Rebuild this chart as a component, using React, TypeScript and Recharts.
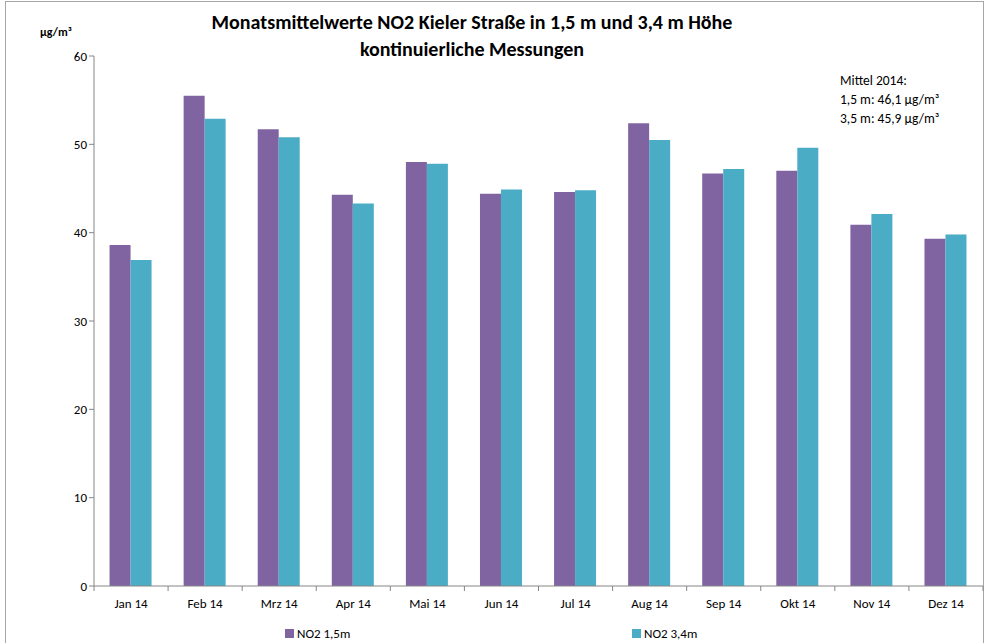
import { BarChart, Bar, XAxis, YAxis, Customized } from 'recharts';

const months = ['Jan 14', 'Feb 14', 'Mrz 14', 'Apr 14', 'Mai 14', 'Jun 14', 'Jul 14', 'Aug 14', 'Sep 14', 'Okt 14', 'Nov 14', 'Dez 14'];
const no2At15 = [38.6, 55.5, 51.7, 44.3, 48.0, 44.4, 44.6, 52.4, 46.7, 47.0, 40.9, 39.3];
const no2At34 = [36.9, 52.9, 50.8, 43.3, 47.8, 44.9, 44.8, 50.5, 47.2, 49.6, 42.1, 39.8];
const yTicks = [0, 10, 20, 30, 40, 50, 60];
const seriesNames = ['NO2 1,5m', 'NO2 3,4m'];

const data = months.map((m, i) => ({ month: m, a: no2At15[i], b: no2At34[i] }));

const W = 986;
const H = 643;
const PLOT_LEFT = 94;
const PLOT_RIGHT = 983;
const BAND = (PLOT_RIGHT - PLOT_LEFT) / months.length;
const FONT = "Carlito, 'Open Sans', 'Noto Sans', sans-serif";
const AXIS = '#868686';
const PURPLE = '#8064A2';
const TEAL = '#4BACC6';

function MonthTick(props: any) {
  const { x, y, payload, index } = props;
  const left = x - BAND / 2;
  return (
    <g>
      <line x1={left} y1={y - 8} x2={left} y2={y - 3} stroke={AXIS} />
      {index === months.length - 1 && (
        <line x1={left + BAND} y1={y - 8} x2={left + BAND} y2={y - 3} stroke={AXIS} />
      )}
      <text x={x} y={y + 14} textAnchor="middle" fontSize={13} fontFamily={FONT} fill="#000">
        {payload.value}
      </text>
    </g>
  );
}

function Overlay() {
  const legend = [
    { label: seriesNames[0], color: PURPLE, x: 285 },
    { label: seriesNames[1], color: TEAL, x: 632 },
  ];
  return (
    <g fontFamily={FONT}>
      <rect x={5.5} y={1.5} width={978} height={H} fill="none" stroke="#a6a6a6" />
      <text x={472} y={29} textAnchor="middle" fontSize={20} fontWeight="bold" fill="#000">
        Monatsmittelwerte NO2 Kieler Straße in 1,5 m und 3,4 m Höhe
      </text>
      <text x={472} y={56} textAnchor="middle" fontSize={20} fontWeight="bold" fill="#000">
        kontinuierliche Messungen
      </text>
      <text x={40} y={36} fontSize={12} fontWeight="bold" fill="#000">
        µg/m³
      </text>
      <text x={840} y={85} fontSize={13.5} fill="#000">Mittel 2014:</text>
      <text x={840} y={104} fontSize={13.5} fill="#000">1,5 m: 46,1 µg/m³</text>
      <text x={840} y={123} fontSize={13.5} fill="#000">3,5 m: 45,9 µg/m³</text>
      {legend.map((it) => (
        <g key={it.label}>
          <rect x={it.x} y={629} width={9} height={9} fill={it.color} />
          <text x={it.x + 12} y={638} fontSize={13} fill="#000">
            {it.label}
          </text>
        </g>
      ))}
    </g>
  );
}

export default function App() {
  return (
    <div style={{ position: 'absolute', left: 0, top: 0, width: W, height: H, background: '#fff' }}>
      <BarChart
        width={W}
        height={H}
        data={data}
        margin={{ top: 56, right: W - PLOT_RIGHT, bottom: 27, left: PLOT_LEFT - 40 }}
        barCategoryGap="21%"
        barGap={0}
      >
        <XAxis
          dataKey="month"
          height={30}
          axisLine={{ stroke: AXIS }}
          tickLine={false}
          tick={<MonthTick />}
          interval={0}
        />
        <YAxis
          width={40}
          domain={[0, 60]}
          ticks={yTicks}
          interval={0}
          axisLine={{ stroke: AXIS }}
          tickLine={{ stroke: AXIS }}
          tickSize={5}
          tick={{ fontSize: 13, fontFamily: FONT, fill: '#000' }}
        />
        <Bar dataKey="a" name={seriesNames[0]} fill={PURPLE} isAnimationActive={false} />
        <Bar dataKey="b" name={seriesNames[1]} fill={TEAL} isAnimationActive={false} />
        <Customized component={Overlay} />
      </BarChart>
    </div>
  );
}
